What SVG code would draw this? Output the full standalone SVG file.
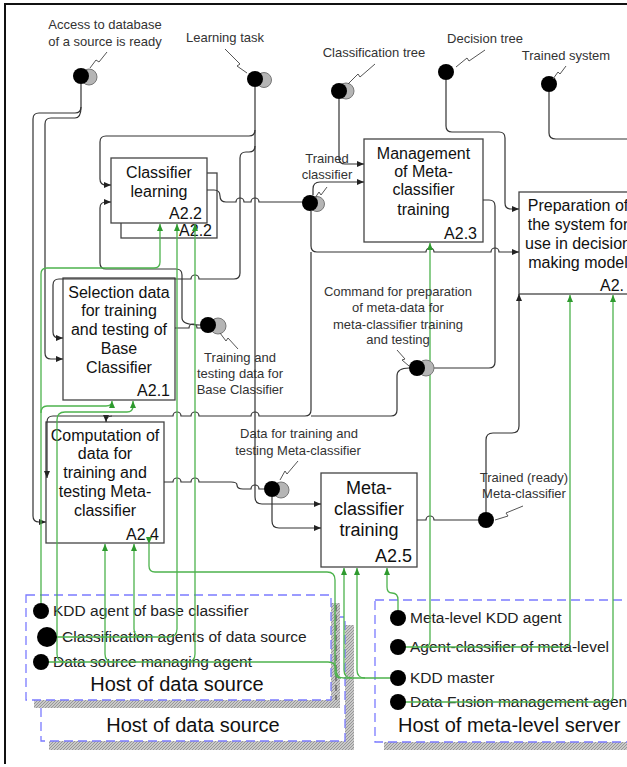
<svg xmlns="http://www.w3.org/2000/svg" width="627" height="767" viewBox="0 0 627 767">
  <defs>
    <style>
      .c{fill:none;stroke:#333;stroke-width:1.2}
      .g{fill:none;stroke:#4db34d;stroke-width:1.3}
      .box{fill:#fff;stroke:#444;stroke-width:1.3}
      .t{font-family:"Liberation Sans",Arial,sans-serif;fill:#111}
      .bt{font-size:16px;text-anchor:middle}
      .bt18{font-size:18px;text-anchor:middle}
      .num{font-size:16px;text-anchor:end}
      .lbl{font-size:13px;fill:#333;text-anchor:middle}
      .ag{font-size:15.5px;fill:#222}
      .host{font-size:20px;fill:#111}
      .dot{fill:#000}
      .sh{fill:#b5b5b5;stroke:#777;stroke-width:1}
      .bolt{fill:none;stroke:#555;stroke-width:1}
      .hostbox{fill:#fff;stroke:#7b7bff;stroke-width:1.3;stroke-dasharray:9 5}
      .shade{fill:url(#hatch);stroke:none}
    </style>
    <pattern id="hatch" width="3" height="3" patternUnits="userSpaceOnUse">
      <rect width="3" height="3" fill="#c9c9c9"/>
      <path d="M0,3 L3,0" stroke="#8a8a8a" stroke-width="0.8"/>
    </pattern>
    <marker id="a" markerUnits="userSpaceOnUse" markerWidth="7" markerHeight="7" viewBox="0 0 7 7" refX="7" refY="3.5" orient="auto">
      <path d="M0,0.5 L7,3.5 L0,6.5z" fill="#222"/>
    </marker>
    <marker id="ga" markerUnits="userSpaceOnUse" markerWidth="7" markerHeight="7" viewBox="0 0 7 7" refX="7" refY="3.5" orient="auto">
      <path d="M0,0.5 L7,3.5 L0,6.5z" fill="#2e9a2e"/>
    </marker>
  </defs>

  <rect width="627" height="767" fill="#fff"/>
  <path d="M627,4 H5 V764" fill="none" stroke="#111" stroke-width="2"/>

  <!-- hosts -->
  <g id="host-data-source-2">
    <rect class="shade" x="345" y="625" width="9" height="125"/>
    <rect class="shade" x="49" y="741" width="305" height="9"/>
    <rect class="hostbox" x="41" y="617" width="304" height="124"/>
    <text class="t host" x="193" y="732" text-anchor="middle">Host of data source</text>
  </g>
  <g id="host-data-source-1">
    <rect class="shade" x="331" y="603" width="9" height="105"/>
    <line x1="336" y1="605" x2="336" y2="706" stroke="#555" stroke-width="1.2" stroke-dasharray="6 4"/>
    <rect class="shade" x="34" y="700" width="306" height="8"/>
    <rect class="hostbox" x="26" y="595" width="305" height="105"/>
    <text class="t host" x="177" y="691" text-anchor="middle">Host of data source</text>
  </g>
  <g id="host-meta-server">
    <rect class="shade" x="384" y="742" width="250" height="8"/>
    <rect class="hostbox" x="375" y="600" width="262" height="142"/>
    <text class="t host" x="398" y="732">Host of meta-level server</text>
  </g>

  <!-- agent labels -->
  <g id="agent-labels">
    <text class="t ag" x="53" y="616">KDD agent of base classifier</text>
    <text class="t ag" x="62" y="642">Classification agents of data source</text>
    <text class="t ag" x="53" y="667">Data source managing agent</text>
    <text class="t ag" x="410" y="623">Meta-level KDD agent</text>
    <text class="t ag" x="410" y="652">Agent-classifier of meta-level</text>
    <text class="t ag" x="410" y="683">KDD master</text>
    <text class="t ag" x="410" y="707">Data Fusion management agent</text>
  </g>

  <!-- activity boxes -->
  <g id="A2.2">
    <rect class="box" x="121" y="173" width="96" height="65"/>
    <text class="t num" x="212" y="236">A2.2</text>
    <rect class="box" x="111" y="158" width="96" height="65"/>
    <text class="t bt" x="159" y="178">Classifier</text>
    <text class="t bt" x="159" y="197">learning</text>
    <text class="t num" x="202" y="219">A2.2</text>
  </g>
  <g id="A2.1">
    <rect class="box" x="63" y="278" width="112" height="122"/>
    <text class="t bt" x="119" y="298">Selection data</text>
    <text class="t bt" x="119" y="316">for training</text>
    <text class="t bt" x="119" y="335">and testing of</text>
    <text class="t bt" x="119" y="354">Base</text>
    <text class="t bt" x="119" y="373">Classifier</text>
    <text class="t num" x="170" y="396">A2.1</text>
  </g>
  <g id="A2.4">
    <rect class="box" x="46" y="422" width="118" height="121"/>
    <text class="t bt" x="105" y="441">Computation of</text>
    <text class="t bt" x="105" y="459">data for</text>
    <text class="t bt" x="105" y="478">training and</text>
    <text class="t bt" x="105" y="497">testing Meta-</text>
    <text class="t bt" x="105" y="516">classifier</text>
    <text class="t num" x="159" y="540">A2.4</text>
  </g>
  <g id="A2.3">
    <rect class="box" x="364" y="139" width="119" height="103"/>
    <text class="t bt" x="423.5" y="159">Management</text>
    <text class="t bt" x="423.5" y="177">of Meta-</text>
    <text class="t bt" x="423.5" y="195">classifier</text>
    <text class="t bt" x="423.5" y="215">training</text>
    <text class="t num" x="477" y="239">A2.3</text>
  </g>
  <g id="A2.5">
    <rect class="box" x="321" y="473" width="96" height="94"/>
    <text class="t bt18" x="369" y="494">Meta-</text>
    <text class="t bt18" x="369" y="515">classifier</text>
    <text class="t bt18" x="369" y="536">training</text>
    <text class="t" x="412" y="562" font-size="18" text-anchor="end">A2.5</text>
  </g>
  <g id="A2.6">
    <rect class="box" x="519" y="192" width="130" height="102"/>
    <text class="t bt" x="578" y="211">Preparation of</text>
    <text class="t bt" x="578" y="230">the system for</text>
    <text class="t bt" x="578" y="249">use in decision</text>
    <text class="t bt" x="578" y="268">making model</text>
    <text class="t" x="600" y="291" font-size="16">A2.</text>
  </g>

  <!-- connectors -->
  <g id="connectors">
    <g id="control-flows">
      <path class="c" marker-end="url(#a)" d="M81,84 V107 Q81,113 75,113 H39 Q33,113 33,119 V516 Q33,522 39,522 H46"/>
      <path class="c" marker-end="url(#a)" d="M81,107 Q81,118 75,118 H51 Q45,118 45,124 V353 Q45,359 51,359 H63"/>
      <path class="c" marker-end="url(#a)" d="M255,87 V130 Q255,136 249,136 H106 Q100,136 100,142 V179 Q100,185 106,185 H111"/>
      <path class="c" marker-end="url(#a)" d="M255,130 V497 Q255,504 262,504 H321"/>
      <path class="c" marker-end="url(#a)" d="M255,146 Q255,152 249,152 H246 Q240,152 240,158 V273 Q240,279 234,279 H199 a4,4 0 0 0 -8,0 H59 Q53,279 53,285 V332 Q53,338 59,338 H63"/>
      <path class="c" marker-end="url(#a)" d="M200,325 Q182,325 182,318 V275 Q182,269 176,269 H106 Q100,269 100,263 V208 Q100,202 106,202 H111"/>
      <path class="c" d="M175,328 H189 a4,4 0 0 1 8,0 H201"/>
      <path class="c" d="M207,190 H214 Q220,190 220,196 Q220,202 226,202 H236 a4,4 0 0 1 8,0 H251 a4,4 0 0 1 8,0 H303"/>
      <path class="c" marker-end="url(#a)" d="M339,99 V158 Q339,164 345,164 H364"/>
      <path class="c" marker-end="url(#a)" d="M313,195 V189 Q313,182 320,182 H364"/>
      <path class="c" marker-end="url(#a)" d="M311,211 V246 Q311,252 317,252 H426 a4,4 0 0 1 8,0 H491 a4,4 0 0 1 8,0 H519"/>
      <path class="c" marker-end="url(#a)" d="M311,252 V410 Q311,416 305,416 H259 a4,4 0 0 0 -8,0 H199 a4,4 0 0 0 -8,0 H181 a4,4 0 0 0 -8,0 H112 Q106,416 106,422"/>
      <path class="c" d="M409,368 Q397,368 397,376 V410 Q397,416 391,416 H311"/>
      <path class="c" marker-end="url(#a)" d="M112,416 H53 Q47,416 47,422 V478"/>
      <path class="c" d="M483,200 H489 Q495,200 495,206 V362 Q495,368 489,368 H425"/>
      <path class="c" d="M164,482 H173 a4,4 0 0 1 8,0 H191 a4,4 0 0 1 8,0 H231 Q237,482 237,485 Q237,489 243,489 H251 a4,4 0 0 1 8,0 H264"/>
      <path class="c" marker-end="url(#a)" d="M272,497 V521 Q272,528 279,528 H321"/>
      <path class="c" d="M417,520 H426 a4,4 0 0 1 8,0 H478"/>
      <path class="c" marker-end="url(#a)" d="M486,512 V440 Q486,433 493,433 H512 Q519,433 519,426 V294"/>
      <path class="c" marker-end="url(#a)" d="M446,80 V126 Q446,132 452,132 H499 Q505,132 505,138 V203 Q505,209 511,209 H519"/>
      <path class="c" d="M549,92 V133 Q549,139 556,139 H627"/>
    </g>
    <g id="mechanism-links">
      <path class="g" marker-end="url(#ga)" d="M41,603 V274 Q41,268 47,268 H154 Q160,268 160,262 V224"/>
      <path class="g" marker-end="url(#ga)" d="M41,413 Q41,406 47,406 H106 Q112,406 112,401"/>
      <path class="g" marker-end="url(#ga)" d="M65,662 Q57,662 57,654 V420 Q57,412 65,412 H127 Q133,412 133,406 V401"/>
      <path class="g" marker-end="url(#ga)" d="M113,662 Q105,662 105,654 V544"/>
      <path class="g" marker-end="url(#ga)" d="M142,637 Q134,637 134,629 V544"/>
      <path class="g" marker-end="url(#ga)" d="M169,637 Q177,637 177,629 V224"/>
      <path class="g" marker-end="url(#ga)" d="M187,662 Q195,662 195,654 V224"/>
      <path class="g" d="M47,637 H169"/>
      <path class="g" d="M41,662 H328 Q336,662 336,670 Q336,678 344,678 H390"/>
      <path class="g" marker-start="url(#ga)" d="M149,544 V566 Q149,572 155,572 H327 Q335,572 335,580 V672 Q335,678 341,678"/>
      <path class="g" marker-end="url(#ga)" d="M352,678 Q344,678 344,670 V568"/>
      <path class="g" marker-end="url(#ga)" d="M365,678 Q357,678 357,670 V568"/>
      <path class="g" marker-end="url(#ga)" d="M398,610 V600 Q398,593 392,593 Q387,593 387,587 V568"/>
      <path class="g" marker-end="url(#ga)" d="M398,647 H564 Q570,647 570,641 V295"/>
      <path class="g" marker-end="url(#ga)" d="M424,647 Q430,647 430,641 V243"/>
      <path class="g" marker-end="url(#ga)" d="M398,702 H607 Q613,702 613,696 V295"/>
    </g>
  </g>

  <!-- agents -->
  <g id="agent-kdd-base"><circle class="dot" cx="41" cy="611" r="8"/></g>
  <g id="agent-classification"><circle class="dot" cx="47" cy="637" r="10"/></g>
  <g id="agent-source-manager"><circle class="dot" cx="41" cy="662" r="8"/></g>
  <g id="agent-meta-kdd"><circle class="dot" cx="398" cy="618" r="8"/></g>
  <g id="agent-meta-classifier"><circle class="dot" cx="398" cy="647" r="8"/></g>
  <g id="agent-kdd-master"><circle class="dot" cx="398" cy="678" r="8"/></g>
  <g id="agent-data-fusion"><circle class="dot" cx="398" cy="702" r="8"/></g>

  <!-- events -->
  <g id="ev-access">
    <circle class="sh" cx="89" cy="77" r="8"/>
    <circle class="dot" cx="81" cy="76" r="8"/>
    <path class="bolt" d="M107,52 L99,62 L96,60 L90,68"/>
    <text class="t lbl" x="105" y="29">Access to database</text>
    <text class="t lbl" x="105" y="46">of a source is ready</text>
  </g>
  <g id="ev-learning-task">
    <circle class="sh" cx="264" cy="80" r="7.5"/>
    <circle class="dot" cx="255" cy="79" r="8"/>
    <path class="bolt" d="M225,49 L240,64 L237,66 L247,73"/>
    <text class="t lbl" x="225" y="42">Learning task</text>
  </g>
  <g id="ev-classification-tree">
    <circle class="sh" cx="346" cy="91" r="8"/>
    <circle class="dot" cx="339" cy="91" r="8"/>
    <path class="bolt" d="M375,64 L360,77 L358,74 L348,84"/>
    <text class="t lbl" x="374" y="57">Classification tree</text>
  </g>
  <g id="ev-decision-tree">
    <circle class="dot" cx="446" cy="72" r="8"/>
    <path class="bolt" d="M485,50 L469,61 L467,58 L456,67"/>
    <text class="t lbl" x="485" y="43">Decision tree</text>
  </g>
  <g id="ev-trained-system">
    <circle class="dot" cx="549" cy="84" r="8"/>
    <path class="bolt" d="M566,66 L560,74 L558,72 L553,79"/>
    <text class="t lbl" x="566" y="60">Trained system</text>
  </g>
  <g id="ev-trained-classifier">
    <circle class="sh" cx="317" cy="204" r="7.5"/>
    <circle class="dot" cx="310" cy="203" r="8"/>
    <path class="bolt" d="M327,187 L321,195 L319,192 L315,198"/>
    <text class="t lbl" x="327" y="163">Trained</text>
    <text class="t lbl" x="327" y="179">classifier</text>
  </g>
  <g id="ev-base-data">
    <circle class="sh" cx="218" cy="326" r="8"/>
    <circle class="dot" cx="208" cy="325" r="8"/>
    <path class="bolt" d="M238,349 L228,338 L226,341 L220,333"/>
    <text class="t lbl" x="240" y="362">Training and</text>
    <text class="t lbl" x="240" y="378">testing data for</text>
    <text class="t lbl" x="240" y="394">Base Classifier</text>
  </g>
  <g id="ev-command">
    <circle class="sh" cx="426" cy="368" r="8"/>
    <circle class="dot" cx="417" cy="368" r="8"/>
    <path class="bolt" d="M397,350 L405,359 L402,360 L409,366"/>
    <text class="t lbl" x="398" y="296">Command for preparation</text>
    <text class="t lbl" x="398" y="312">of meta-data for</text>
    <text class="t lbl" x="398" y="329">meta-classifier training</text>
    <text class="t lbl" x="398" y="344">and testing</text>
  </g>
  <g id="ev-meta-data">
    <circle class="sh" cx="281" cy="490" r="8"/>
    <circle class="dot" cx="272" cy="489" r="8"/>
    <path class="bolt" d="M298,461 L287,474 L285,471 L280,480"/>
    <text class="t lbl" x="299" y="438">Data for training and</text>
    <text class="t lbl" x="298" y="455">testing Meta-classifier</text>
  </g>
  <g id="ev-trained-meta">
    <circle class="dot" cx="486" cy="520" r="8"/>
    <path class="bolt" d="M523,506 L506,513 L508,516 L495,520"/>
    <text class="t lbl" x="524" y="482">Trained (ready)</text>
    <text class="t lbl" x="524" y="498">Meta-classifier</text>
  </g>
</svg>
